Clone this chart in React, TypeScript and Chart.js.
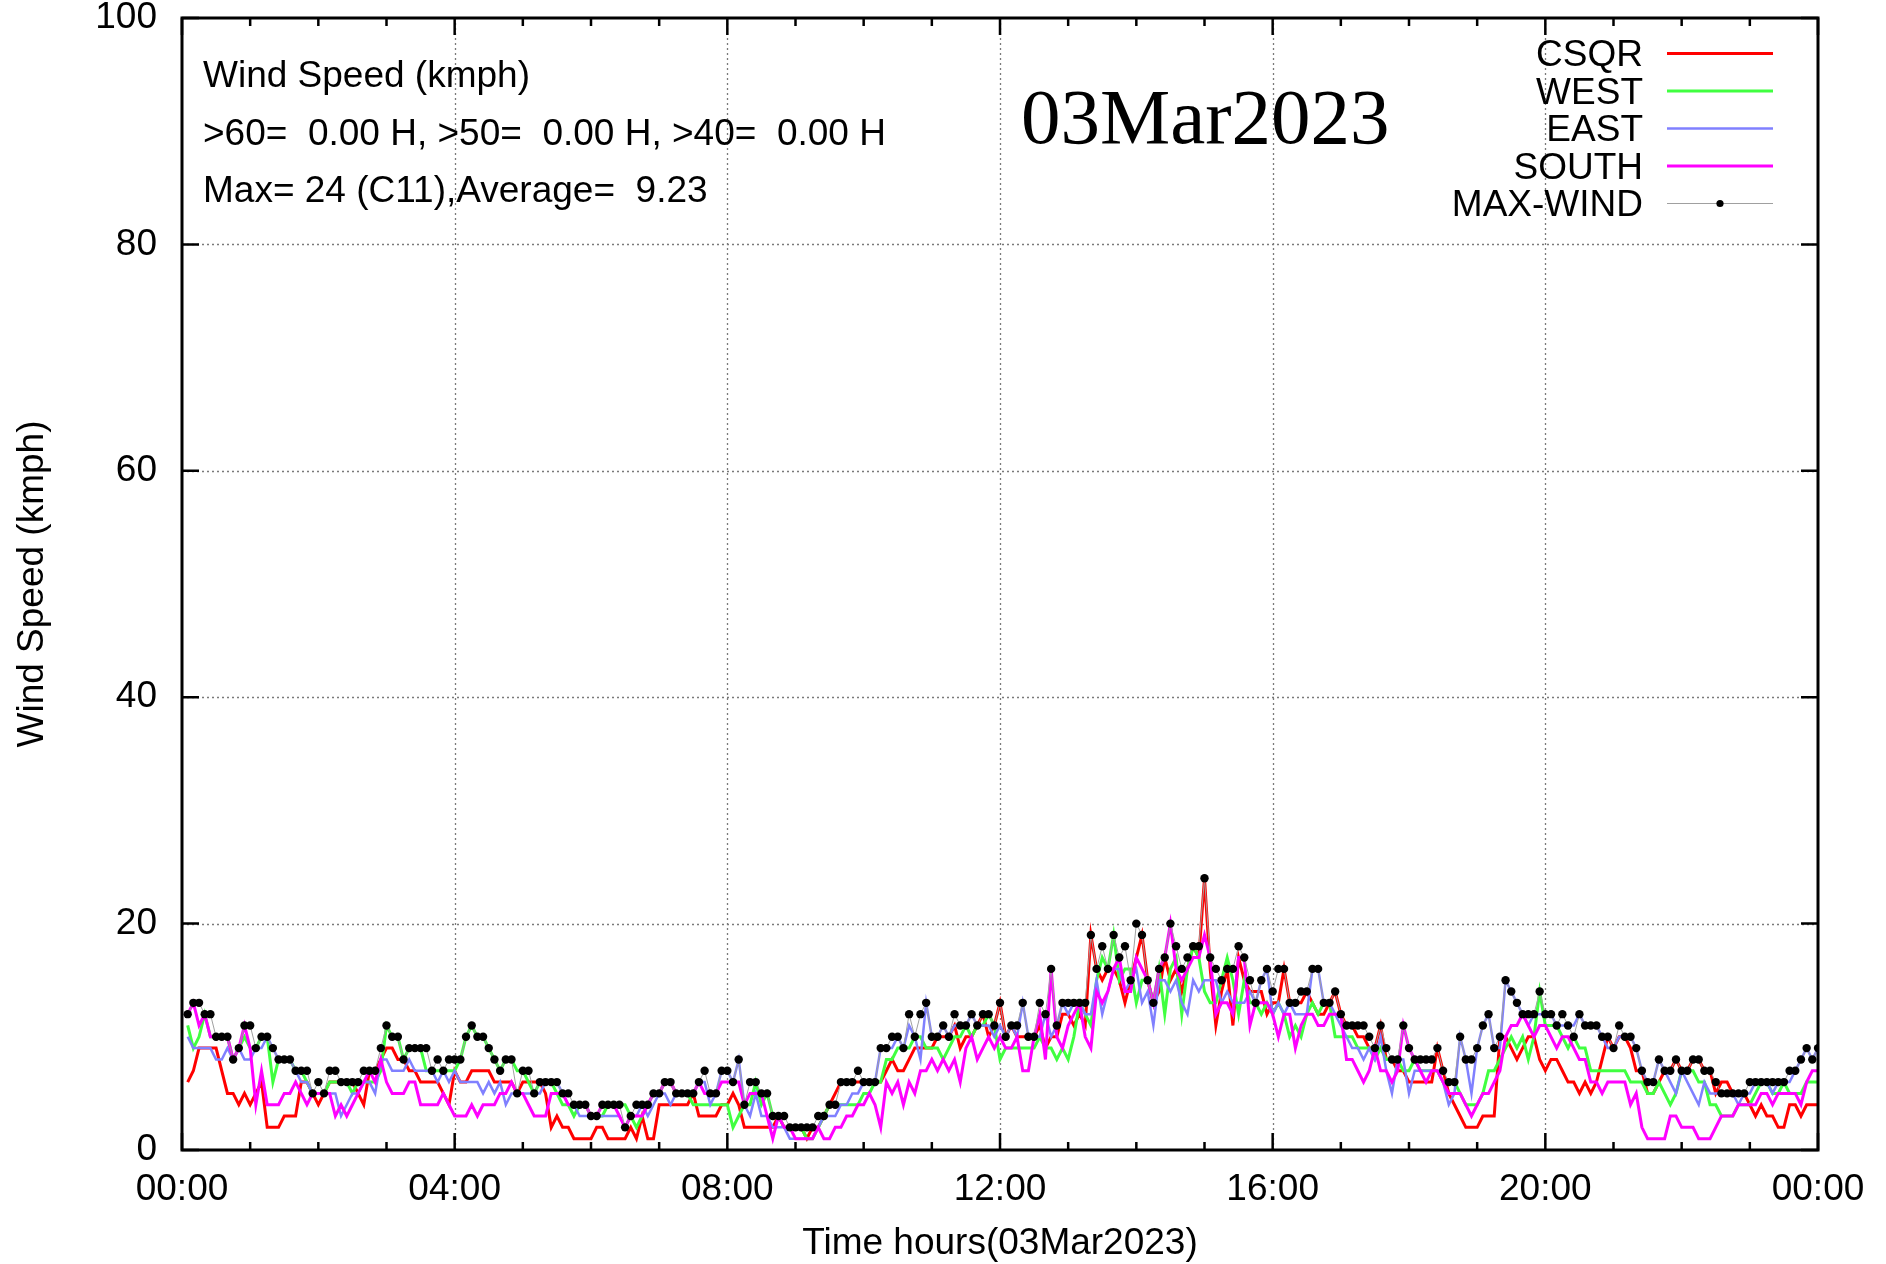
import React, { useEffect, useRef } from "react";
import { Chart, registerables } from "chart.js";

Chart.register(...registerables);

// Sample times in minutes after midnight (5-minute records)
const SAMPLE_MINUTES: number[] = Array.from({ length: 288 }, (_, i) => 5 + i * 5);

const CSQR: number[] = [
  6, 7, 9, 9, 9, 9, 7, 5, 5, 4,
  5, 4, 5, 6, 2, 2, 2, 3, 3, 3,
  6, 6, 5, 4, 5, 6, 6, 6, 6, 6,
  5, 4, 7, 7, 8, 9, 9, 8, 8, 7,
  7, 6, 6, 6, 6, 5, 4, 7, 6, 6,
  7, 7, 7, 7, 6, 6, 6, 6, 5, 6,
  6, 6, 6, 5, 2, 3, 2, 2, 1, 1,
  1, 1, 2, 2, 1, 1, 1, 1, 2, 1,
  3, 1, 1, 4, 4, 4, 4, 4, 4, 5,
  3, 3, 3, 3, 4, 4, 5, 4, 2, 2,
  2, 2, 2, 2, 3, 2, 2, 2, 2, 1,
  2, 2, 3, 4, 5, 6, 6, 6, 6, 6,
  6, 6, 6, 7, 8, 7, 7, 8, 9, 9,
  9, 9, 10, 10, 10, 11, 9, 10, 10, 11,
  12, 10, 11, 13, 10, 11, 10, 10, 10, 10,
  11, 9, 10, 10, 12, 12, 11, 12, 11, 19,
  16, 15, 16, 16, 15, 13, 15, 17, 19, 15,
  13, 14, 17, 15, 16, 14, 16, 18, 17, 24,
  16, 11, 14, 16, 11, 17, 15, 14, 14, 14,
  12, 13, 13, 16, 13, 13, 13, 14, 13, 12,
  12, 13, 14, 12, 11, 11, 10, 10, 9, 9,
  11, 8, 8, 7, 7, 6, 6, 6, 6, 6,
  9, 7, 5, 4, 3, 2, 2, 2, 3, 3,
  3, 10, 10, 9, 8, 9, 10, 10, 8, 7,
  8, 8, 7, 6, 6, 5, 6, 5, 6, 8,
  10, 9, 10, 10, 9, 7, 7, 5, 5, 6,
  7, 7, 8, 7, 7, 8, 8, 7, 7, 5,
  6, 6, 5, 5, 5, 4, 3, 4, 3, 3,
  2, 2, 4, 4, 3, 4, 4, 4,
];

const WEST: number[] = [
  11, 9, 10, 12, 10, 10, 10, 10, 8, 9,
  10, 9, 9, 10, 10, 6, 8, 8, 8, 7,
  7, 6, 5, 5, 5, 6, 6, 6, 6, 5,
  6, 6, 6, 6, 7, 11, 10, 10, 8, 9,
  9, 9, 7, 7, 7, 7, 7, 7, 8, 10,
  11, 10, 10, 9, 8, 7, 8, 8, 7, 7,
  6, 5, 6, 6, 6, 5, 4, 4, 3, 4,
  4, 3, 3, 3, 4, 4, 4, 4, 3, 2,
  3, 4, 5, 5, 6, 6, 5, 5, 5, 4,
  4, 4, 4, 4, 4, 4, 2, 3, 4, 4,
  6, 4, 5, 3, 3, 2, 2, 2, 2, 1,
  1, 2, 3, 4, 4, 4, 4, 4, 4, 5,
  5, 6, 6, 8, 8, 9, 9, 9, 10, 10,
  9, 9, 9, 8, 9, 10, 10, 11, 10, 11,
  11, 12, 11, 8, 9, 9, 9, 9, 9, 9,
  10, 9, 9, 8, 9, 8, 10, 13, 12, 11,
  15, 17, 16, 19, 15, 16, 16, 13, 15, 15,
  13, 16, 12, 16, 17, 12, 16, 18, 17, 14,
  13, 13, 15, 17, 15, 12, 15, 13, 13, 12,
  13, 12, 13, 12, 10, 11, 10, 12, 13, 12,
  13, 13, 10, 10, 10, 10, 9, 9, 9, 8,
  9, 8, 8, 8, 7, 7, 8, 7, 7, 7,
  7, 6, 6, 6, 5, 4, 4, 4, 5, 7,
  7, 8, 9, 10, 9, 10, 8, 10, 14, 11,
  11, 11, 10, 9, 10, 9, 9, 7, 7, 7,
  7, 7, 7, 7, 6, 6, 6, 5, 5, 6,
  5, 4, 5, 7, 7, 7, 6, 6, 4, 4,
  3, 3, 3, 4, 4, 4, 5, 6, 6, 5,
  5, 6, 5, 5, 5, 6, 6, 6,
];

const EAST: number[] = [
  10, 9, 9, 9, 9, 8, 8, 9, 8, 9,
  8, 8, 9, 9, 10, 9, 8, 8, 8, 7,
  6, 6, 5, 5, 5, 5, 5, 3, 4, 5,
  5, 6, 6, 5, 8, 8, 7, 7, 7, 8,
  7, 7, 7, 7, 6, 7, 6, 7, 6, 6,
  6, 6, 5, 6, 5, 6, 4, 5, 5, 5,
  5, 5, 5, 6, 6, 6, 5, 4, 4, 3,
  3, 3, 3, 3, 3, 3, 3, 2, 3, 3,
  4, 3, 4, 5, 5, 4, 5, 5, 5, 5,
  6, 6, 4, 5, 7, 7, 6, 8, 4, 3,
  5, 3, 3, 2, 2, 2, 1, 1, 1, 1,
  1, 2, 3, 3, 3, 4, 4, 5, 5, 6,
  6, 6, 9, 9, 9, 10, 9, 11, 10, 8,
  13, 10, 10, 11, 10, 11, 11, 11, 12, 11,
  11, 11, 10, 11, 10, 11, 10, 13, 10, 10,
  10, 12, 10, 11, 13, 12, 13, 13, 12, 12,
  15, 12, 14, 16, 16, 14, 15, 16, 13, 14,
  11, 15, 15, 14, 15, 13, 12, 15, 14, 15,
  15, 15, 13, 14, 13, 13, 13, 14, 13, 15,
  16, 12, 13, 12, 13, 12, 12, 12, 16, 16,
  13, 13, 12, 11, 10, 9, 9, 8, 9, 8,
  10, 7, 5, 8, 8, 5, 7, 7, 7, 7,
  7, 6, 4, 5, 10, 8, 5, 9, 11, 12,
  9, 9, 15, 14, 13, 12, 11, 12, 12, 12,
  12, 11, 11, 11, 11, 12, 11, 11, 11, 10,
  9, 9, 10, 10, 10, 9, 7, 6, 6, 8,
  7, 6, 5, 7, 6, 5, 4, 6, 5, 5,
  5, 5, 5, 4, 5, 5, 6, 6, 6, 5,
  6, 6, 6, 7, 8, 9, 8, 9,
];

const SOUTH: number[] = [
  12, 13, 11, 12, 10, 10, 10, 10, 8, 9,
  11, 9, 4, 7, 4, 4, 4, 5, 5, 6,
  5, 4, 5, 5, 5, 5, 3, 4, 3, 4,
  5, 6, 7, 6, 8, 6, 5, 5, 5, 6,
  6, 4, 4, 4, 4, 5, 4, 3, 3, 3,
  4, 3, 4, 4, 4, 5, 5, 6, 5, 5,
  4, 3, 3, 3, 5, 5, 5, 4, 4, 4,
  4, 3, 3, 4, 4, 4, 3, 2, 3, 3,
  3, 4, 5, 5, 6, 6, 5, 5, 5, 5,
  6, 5, 5, 5, 6, 6, 6, 6, 4, 5,
  5, 5, 3, 1, 3, 2, 2, 1, 1, 1,
  1, 2, 1, 1, 2, 2, 3, 3, 4, 4,
  5, 4, 2, 6, 5, 6, 4, 6, 5, 7,
  7, 8, 7, 8, 7, 8, 6, 9, 10, 8,
  9, 10, 9, 10, 9, 9, 10, 7, 7, 10,
  12, 8, 16, 10, 9, 11, 12, 13, 10, 9,
  14, 13, 14, 16, 17, 14, 14, 17, 16, 15,
  13, 16, 17, 20, 16, 15, 16, 17, 17, 19,
  17, 12, 13, 13, 12, 17, 17, 11, 13, 13,
  13, 12, 10, 12, 12, 9, 11, 12, 12, 11,
  11, 12, 12, 12, 8, 8, 7, 6, 7, 9,
  7, 7, 6, 7, 11, 9, 8, 7, 6, 7,
  7, 6, 5, 5, 5, 4, 3, 4, 5, 5,
  6, 7, 10, 11, 11, 12, 11, 10, 11, 11,
  10, 9, 10, 10, 9, 8, 8, 6, 6, 5,
  6, 6, 6, 6, 4, 5, 2, 1, 1, 1,
  1, 3, 3, 2, 2, 2, 1, 1, 1, 2,
  3, 3, 3, 4, 4, 4, 4, 5, 5, 4,
  5, 5, 5, 5, 4, 6, 7, 7,
];

const MAX_WIND: number[] = [
  12, 13, 13, 12, 12, 10, 10, 10, 8, 9,
  11, 11, 9, 10, 10, 9, 8, 8, 8, 7,
  7, 7, 5, 6, 5, 7, 7, 6, 6, 6,
  6, 7, 7, 7, 9, 11, 10, 10, 8, 9,
  9, 9, 9, 7, 8, 7, 8, 8, 8, 10,
  11, 10, 10, 9, 8, 7, 8, 8, 5, 7,
  7, 5, 6, 6, 6, 6, 5, 5, 4, 4,
  4, 3, 3, 4, 4, 4, 4, 2, 3, 4,
  4, 4, 5, 5, 6, 6, 5, 5, 5, 5,
  6, 7, 5, 5, 7, 7, 6, 8, 4, 6,
  6, 5, 5, 3, 3, 3, 2, 2, 2, 2,
  2, 3, 3, 4, 4, 6, 6, 6, 7, 6,
  6, 6, 9, 9, 10, 10, 9, 12, 10, 12,
  13, 10, 10, 11, 10, 12, 11, 11, 12, 11,
  12, 12, 11, 13, 10, 11, 11, 13, 10, 10,
  13, 12, 16, 11, 13, 13, 13, 13, 13, 19,
  16, 18, 16, 19, 17, 18, 15, 20, 19, 15,
  13, 16, 17, 20, 18, 16, 17, 18, 18, 24,
  17, 16, 15, 16, 16, 18, 17, 15, 13, 15,
  16, 14, 16, 16, 13, 13, 14, 14, 16, 16,
  13, 13, 14, 12, 11, 11, 11, 11, 10, 9,
  11, 9, 8, 8, 11, 9, 8, 8, 8, 8,
  9, 7, 6, 6, 10, 8, 8, 9, 11, 12,
  9, 10, 15, 14, 13, 12, 12, 12, 14, 12,
  12, 11, 12, 11, 10, 12, 11, 11, 11, 10,
  10, 9, 11, 10, 10, 9, 7, 6, 6, 8,
  7, 7, 8, 7, 7, 8, 8, 7, 7, 6,
  5, 5, 5, 5, 5, 6, 6, 6, 6, 6,
  6, 6, 7, 7, 8, 9, 8, 9,
];

const SERIES_NAMES = ["CSQR", "WEST", "EAST", "SOUTH", "MAX-WIND"];
const SERIES_COLORS = ["#ff0000", "#40ff40", "#8080ff", "#ff00ff", "#a0a0a0"];
const X_TICK_LABELS = ["00:00", "04:00", "08:00", "12:00", "16:00", "20:00", "00:00"];
const INFO_LINES = [
  "Wind Speed (kmph)",
  ">60=  0.00 H, >50=  0.00 H, >40=  0.00 H",
  "Max= 24 (C11),Average=  9.23",
];
const DATE_TITLE = "03Mar2023";
const X_TITLE = "Time hours(03Mar2023)";
const Y_TITLE = "Wind Speed (kmph)";

const SANS = "'Liberation Sans', Arial, sans-serif";
const SERIF = "'Liberation Serif', 'Times New Roman', serif";
const FS = 37;

const gnuplotFrame = {
  id: "gnuplotFrame",
  beforeDatasetsDraw(chart: any) {
    const { ctx, chartArea: a, scales } = chart;
    const xs = scales.x;
    const ys = scales.y;
    ctx.save();
    ctx.strokeStyle = "#7a7a7a";
    ctx.lineWidth = 1.3;
    ctx.setLineDash([2, 3]);
    for (const t of xs.ticks) {
      if (t.value <= xs.min || t.value >= xs.max) continue;
      const px = Math.round(xs.getPixelForValue(t.value)) + 0.5;
      ctx.beginPath();
      ctx.moveTo(px, a.top);
      ctx.lineTo(px, a.bottom);
      ctx.stroke();
    }
    for (const t of ys.ticks) {
      if (t.value <= ys.min || t.value >= ys.max) continue;
      const py = Math.round(ys.getPixelForValue(t.value)) + 0.5;
      ctx.beginPath();
      ctx.moveTo(a.left, py);
      ctx.lineTo(a.right, py);
      ctx.stroke();
    }
    ctx.restore();
  },
  afterDatasetsDraw(chart: any) {
    const { ctx, chartArea: a, scales } = chart;
    const xs = scales.x;
    const ys = scales.y;
    ctx.save();
    ctx.strokeStyle = "#000";
    ctx.lineWidth = 2.5;
    ctx.setLineDash([]);
    const majorLen = 17;
    const minorLen = 8;
    for (let m = xs.min; m <= xs.max; m += 60) {
      const px = xs.getPixelForValue(m);
      const len = m % 240 === 0 ? majorLen : minorLen;
      ctx.beginPath();
      ctx.moveTo(px, a.bottom);
      ctx.lineTo(px, a.bottom - len);
      ctx.moveTo(px, a.top);
      ctx.lineTo(px, a.top + len);
      ctx.stroke();
    }
    for (const t of ys.ticks) {
      const py = ys.getPixelForValue(t.value);
      ctx.beginPath();
      ctx.moveTo(a.left, py);
      ctx.lineTo(a.left + majorLen, py);
      ctx.moveTo(a.right, py);
      ctx.lineTo(a.right - majorLen, py);
      ctx.stroke();
    }
    ctx.lineWidth = 3;
    ctx.strokeRect(a.left, a.top, a.right - a.left, a.bottom - a.top);
    ctx.restore();
  },
  afterDraw(chart: any) {
    const { ctx } = chart;
    ctx.save();
    ctx.fillStyle = "#000";
    ctx.textBaseline = "alphabetic";
    ctx.font = `${FS}px ${SANS}`;
    ctx.textAlign = "left";
    INFO_LINES.forEach((line, i) => {
      ctx.fillText(line, 203, 87 + i * 57.5);
    });
    ctx.font = `79px ${SERIF}`;
    ctx.fillText(DATE_TITLE, 1021, 143);
    ctx.font = `${FS}px ${SANS}`;
    ctx.textAlign = "right";
    chart.data.datasets.forEach((ds: any, i: number) => {
      const base = 66 + i * 37.5;
      ctx.fillStyle = "#000";
      ctx.fillText(ds.label, 1643, base);
      const ly = base - 12.5;
      ctx.beginPath();
      ctx.strokeStyle = ds.borderColor;
      ctx.lineWidth = ds.borderWidth;
      ctx.moveTo(1667, ly);
      ctx.lineTo(1773, ly);
      ctx.stroke();
      if (ds.pointRadius > 0) {
        ctx.beginPath();
        ctx.fillStyle = ds.pointBackgroundColor;
        ctx.arc(1720, ly, 3.6, 0, Math.PI * 2);
        ctx.fill();
      }
    });
    ctx.restore();
  },
};

function toPoints(values: number[]) {
  return SAMPLE_MINUTES.map((t, i) => ({ x: t, y: values[i] }));
}

export default function App() {
  const canvasRef = useRef<HTMLCanvasElement | null>(null);

  useEffect(() => {
    const canvas = canvasRef.current;
    if (!canvas) return;
    const series = [CSQR, WEST, EAST, SOUTH, MAX_WIND];
    const widths = [3, 3, 2.5, 3, 1];
    const datasets = series.map((vals, i) => ({
      label: SERIES_NAMES[i],
      data: toPoints(vals),
      borderColor: SERIES_COLORS[i],
      backgroundColor: SERIES_COLORS[i],
      borderWidth: widths[i],
      pointRadius: i === 4 ? 4.2 : 0,
      pointHoverRadius: 0,
      pointBackgroundColor: "#000",
      pointBorderColor: "#000",
      pointBorderWidth: 0,
      tension: 0,
      fill: false,
      order: 5 - i,
    }));

    const tickFont = { family: SANS, size: FS, lineHeight: 1 };
    const chart = new Chart(canvas, {
      type: "line",
      data: { datasets } as any,
      options: {
        responsive: false,
        animation: false,
        devicePixelRatio: 1,
        events: [],
        layout: { padding: { top: 18, right: 68, bottom: 0, left: 0 } },
        plugins: {
          legend: { display: false },
          tooltip: { enabled: false },
        },
        scales: {
          x: {
            type: "linear",
            min: 0,
            max: 1440,
            afterFit: (s: any) => {
              s.height = 114;
              s.paddingLeft = 0;
              s.paddingRight = 0;
            },
            grid: { display: false, drawTicks: false },
            border: { display: false },
            ticks: {
              stepSize: 240,
              autoSkip: false,
              maxRotation: 0,
              minRotation: 0,
              padding: 21,
              color: "#000",
              font: tickFont,
              callback: (v: any) => X_TICK_LABELS[Math.round(Number(v) / 240)] ?? "",
            },
            title: {
              display: true,
              text: X_TITLE,
              color: "#000",
              font: tickFont,
              padding: { top: 0, bottom: 2 },
            },
          },
          y: {
            type: "linear",
            min: 0,
            max: 100,
            afterFit: (s: any) => {
              s.width = 182;
              s.paddingTop = 0;
              s.paddingBottom = 0;
            },
            grid: { display: false, drawTicks: false },
            border: { display: false },
            ticks: {
              stepSize: 20,
              padding: 25,
              color: "#000",
              font: tickFont,
            },
            title: {
              display: true,
              text: Y_TITLE,
              color: "#000",
              font: tickFont,
              padding: { top: 14, bottom: 0 },
            },
          },
        },
      } as any,
      plugins: [gnuplotFrame as any],
    });
    return () => chart.destroy();
  }, []);

  return (
    <div
      style={{
        position: "absolute",
        left: 0,
        top: 0,
        width: 1886,
        height: 1264,
        background: "#fff",
      }}
    >
      <canvas ref={canvasRef} width={1886} height={1264} style={{ display: "block" }} />
    </div>
  );
}
